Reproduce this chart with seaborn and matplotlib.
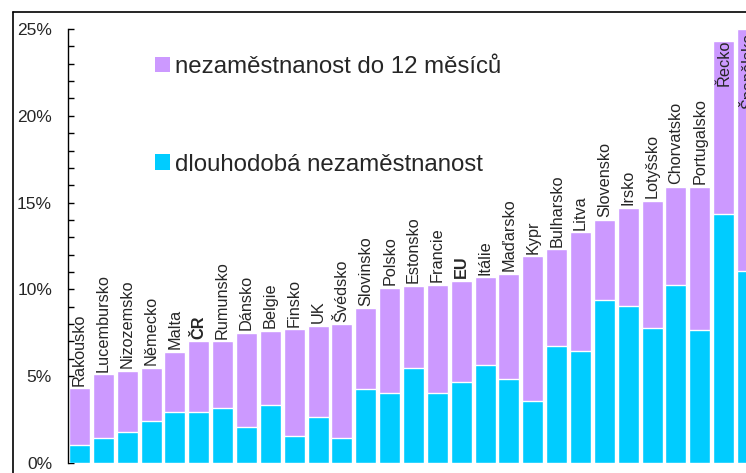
import matplotlib
matplotlib.use("Agg")
import matplotlib.pyplot as plt
from matplotlib.lines import Line2D
from matplotlib.patches import Patch
from matplotlib.ticker import MultipleLocator, FuncFormatter
import seaborn as sns
import pandas as pd

# data (% of labour force)
countries = ["Rakousko", "Lucembursko", "Nizozemsko", "Německo", "Malta", "ČR",
             "Rumunsko", "Dánsko", "Belgie", "Finsko", "UK", "Švédsko", "Slovinsko",
             "Polsko", "Estonsko", "Francie", "EU", "Itálie", "Maďarsko", "Kypr",
             "Bulharsko", "Litva", "Slovensko", "Irsko", "Lotyšsko", "Chorvatsko",
             "Portugalsko", "Řecko", "Španělsko"]
total_unemp = [4.3, 5.1, 5.3, 5.5, 6.4, 7.0, 7.0, 7.5, 7.6, 7.7, 7.9, 8.0, 8.9,
               10.1, 10.2, 10.25, 10.5, 10.7, 10.9, 11.9, 12.3, 13.3, 14.0, 14.7,
               15.1, 15.9, 15.9, 24.3, 25.0]
long_term = [1.05, 1.45, 1.8, 2.4, 2.95, 2.95, 3.15, 2.05, 3.35, 1.55, 2.65, 1.45,
             4.25, 4.05, 5.45, 4.05, 4.65, 5.65, 4.85, 3.55, 6.75, 6.45, 9.4, 9.05,
             7.8, 10.25, 7.65, 14.35, 11.05]
bold_labels = ["ČR", "EU"]

label_short = "nezaměstnanost do 12 měsíců"
label_long = "dlouhodobá nezaměstnanost"
purple = "#CC99FF"
blue = "#00CCFF"

df = pd.DataFrame({"country": countries, "total": total_unemp, "long": long_term})

sns.set_style("ticks")
plt.rcParams["font.family"] = ["Liberation Sans", "DejaVu Sans"]

W, H = 746, 473
fig = plt.figure(figsize=(W / 100, H / 100), dpi=100)
ax = fig.add_axes([68 / W, 10 / H, 691.5 / W, 434 / H])

# stacked bars: whole bar purple, long-term part drawn over it in blue
sns.barplot(data=df, x="country", y="total", color=purple, saturation=1,
            width=0.88, ax=ax)
sns.barplot(data=df, x="country", y="long", color=blue, saturation=1,
            width=0.88, ax=ax)

ax.set_ylim(0, 25)
ax.set_xlim(-0.48, 28.5)
ax.yaxis.set_major_locator(MultipleLocator(5))
ax.yaxis.set_minor_locator(MultipleLocator(1))
ax.yaxis.set_major_formatter(FuncFormatter(lambda v, p: f"{v:.0f}%"))
ax.tick_params(axis="y", which="both", direction="in", length=4, width=1,
               color="black", pad=11.5, labelsize=12.5)
ax.tick_params(axis="x", bottom=False, labelbottom=False)
ax.set_xlabel("")
ax.set_ylabel("")
for s in ["top", "right", "bottom"]:
    ax.spines[s].set_visible(False)
ax.spines["left"].set_color("black")
ax.spines["left"].set_linewidth(1)

# country names above the bars
for i, (name, tot) in enumerate(zip(countries, total_unemp)):
    weight = "bold" if name in bold_labels else "normal"
    if tot > 20:
        ax.text(i, min(tot + 0.1, 24.8), name, rotation=90, ha="center", va="top",
                fontsize=11.7, fontweight=weight, clip_on=False)
    else:
        ax.text(i, tot + 0.15, name, rotation=90, ha="center", va="bottom",
                fontsize=11.7, fontweight=weight)

handles = [Patch(facecolor=purple, edgecolor="none", label=label_short),
           Patch(facecolor=blue, edgecolor="none", label=label_long)]
ax.legend(handles=handles, loc="upper left", bbox_to_anchor=(0.126, 0.938),
          frameon=False, fontsize=17.3, handlelength=0.62, handleheight=0.62,
          handletextpad=0.22, labelspacing=3.15, borderpad=0, borderaxespad=0)

# outer frame of the original chart area
fig.add_artist(Line2D([13 / W, 13 / W], [0, (H - 12) / H], color="black", lw=1.2))
fig.add_artist(Line2D([13 / W, 1], [(H - 12) / H, (H - 12) / H], color="black", lw=1.2))

fig.savefig("out.png", dpi=100)
